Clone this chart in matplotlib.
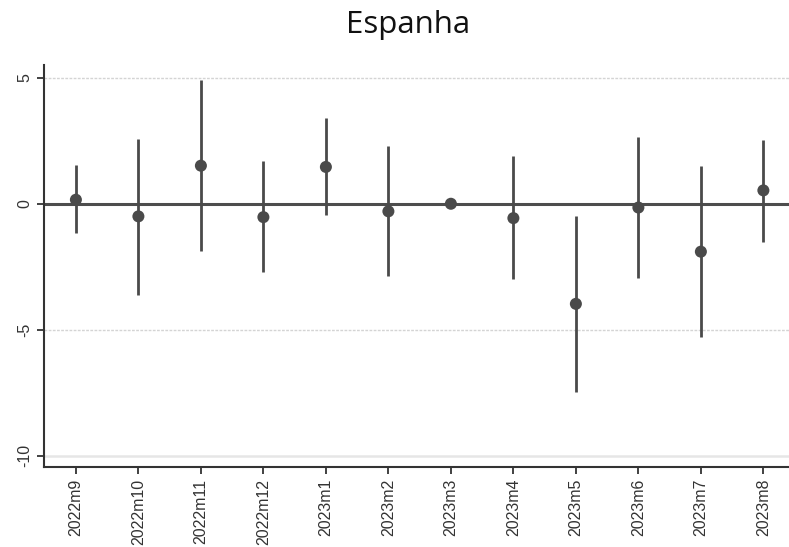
import matplotlib
matplotlib.use("Agg")
import matplotlib.pyplot as plt
import numpy as np

categories = ["2022m9", "2022m10", "2022m11", "2022m12", "2023m1", "2023m2",
              "2023m3", "2023m4", "2023m5", "2023m6", "2023m7", "2023m8"]
estimates = [0.16, -0.50, 1.51, -0.53, 1.46, -0.30, 0.0, -0.57, -3.97, -0.15, -1.90, 0.53]
ci_upper = [1.52, 2.57, 4.92, 1.68, 3.40, 2.30, 0.0, 1.88, -0.48, 2.65, 1.48, 2.54]
ci_lower = [-1.16, -3.61, -1.89, -2.72, -0.46, -2.88, 0.0, -2.99, -7.47, -2.95, -5.29, -1.50]
yticks = [5, 0, -5, -10]

fig = plt.figure(figsize=(7.89, 5.47), dpi=100)
ax = fig.add_axes([0.0558, 0.1463, 0.9442, 0.7347])

x = np.arange(len(categories))
col = "#4a4a4a"

# grid lines
ax.axhline(5, color="#d4d4d4", lw=1.0, ls=(0, (2, 1)), zorder=0)
ax.axhline(-5, color="#d4d4d4", lw=1.0, ls=(0, (2, 1)), zorder=0)
ax.axhline(-10, color="#e6e6e6", lw=1.8, zorder=0)
ax.axhline(0, color="#4d4d4d", lw=2.2, zorder=1)

ax.vlines(x, ci_lower, ci_upper, color=col, lw=2.0, zorder=2)
ax.scatter(x, estimates, s=75, color=col, zorder=3, edgecolors="none")

ax.set_xlim(-0.51, 11.41)
ax.set_ylim(-10.44, 5.5)

ax.set_yticks(yticks)
ax.set_yticklabels([str(v) for v in yticks], rotation=90, va="center",
                   fontsize=11.5, family="Liberation Sans")
ax.set_xticks(x)
ax.set_xticklabels(categories, rotation=90, fontsize=11.5, family="Liberation Sans")

for s in ["top", "right"]:
    ax.spines[s].set_visible(False)
for s in ["left", "bottom"]:
    ax.spines[s].set_color("#333333")
    ax.spines[s].set_linewidth(1.5)
ax.tick_params(axis="both", color="#333333", width=1.3, length=5, labelcolor="#333333")

fig.text(0.517, 0.955, "Espanha", ha="center", va="center", fontsize=22.5,
         family="Open Sans", color="#111111")

fig.savefig("out.png", dpi=100)
